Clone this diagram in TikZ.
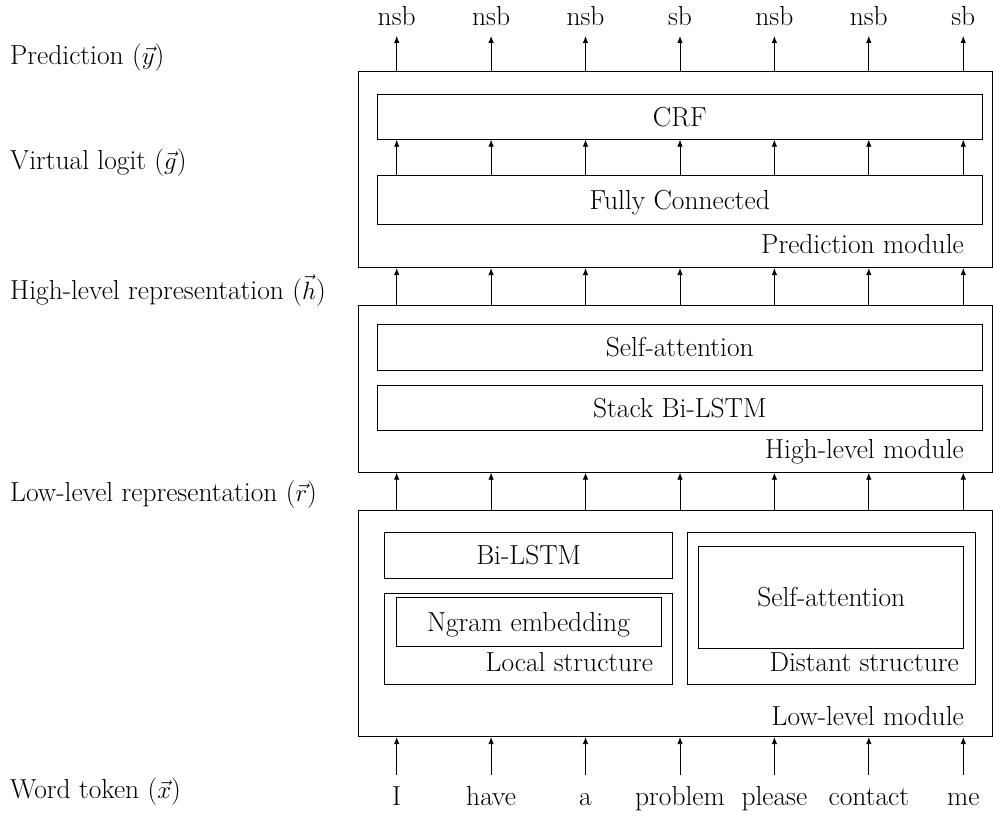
\documentclass[tikz,border=0pt]{standalone}
\usetikzlibrary{arrows.meta}
\begin{document}
\begin{tikzpicture}[x=1pt,y=-1pt,
  every node/.style={font=\fontsize{27.5}{33}\selectfont},
  box/.style={draw,line width=0.8pt,inner sep=0pt,text height=18.7pt,text depth=0pt},
  lbl/.style={inner sep=0pt},
  arr/.style={line width=0.8pt,-{Latex[length=7pt,width=5.5pt]}}]
\useasboundingbox (0,0) rectangle (993,816);
% columns
\foreach \i/\x in {1/396.7,2/491.1,3/585.5,4/680.0,5/774.4,6/868.8,7/963.3}
  \coordinate (c\i) at (\x,0);
% left labels
\node[lbl,anchor=base west] (lp) at (10,64.3) {Prediction ($\vec{y}$)};
\node[lbl,anchor=base west] (lg) at (10,169.3) {Virtual logit ($\vec{g}$)};
\node[lbl,anchor=base west] (lh) at (10,299.3) {High-level representation ($\vec{h}$)};
\node[lbl,anchor=base west] (lr) at (10,501.7) {Low-level representation ($\vec{r}$)};
\node[lbl,anchor=base west] (lx) at (10,798) {Word token ($\vec{x}$)};
% prediction module
\node[box,minimum width=634.2pt,minimum height=196.7pt] (pred) at (675.4,169.35) {};
\node[box,minimum width=605pt,minimum height=45pt] (crf) at (679.8,116.8) {CRF};
\node[box,minimum width=605pt,minimum height=48.3pt] (fc) at (679.8,199.85) {Fully Connected};
\node[lbl,anchor=base east] (predl) at (964,253) {Prediction module};
% high-level module
\node[box,minimum width=634.2pt,minimum height=166.6pt] (high) at (675.4,389) {};
\node[box,minimum width=605pt,minimum height=45.7pt] (hsa) at (679.8,347.15) {Self-attention};
\node[box,minimum width=605pt,minimum height=45pt] (stack) at (679.8,407.8) {Stack Bi-LSTM};
\node[lbl,anchor=base east] (highl) at (964,458) {High-level module};
% low-level module
\node[box,minimum width=634.2pt,minimum height=226.7pt] (low) at (675.4,623.35) {};
\node[box,minimum width=287.7pt,minimum height=45.6pt] (bil) at (528.65,555.5) {Bi-LSTM};
\node[box,minimum width=287.7pt,minimum height=90.5pt] (local) at (528.65,638.75) {};
\node[box,minimum width=265.1pt,minimum height=48.4pt] (ngram) at (528.45,622) {Ngram embedding};
\node[lbl,anchor=base east] (locall) at (653.3,671.7) {Local structure};
\node[box,minimum width=287.7pt,minimum height=151.3pt] (dist) at (831.15,608.35) {};
\node[box,minimum width=265.1pt,minimum height=102pt] (lsa) at (831.25,597) {Self-attention};
\node[lbl,anchor=base east] (distl) at (959,671.7) {Distant structure};
\node[lbl,anchor=base east] (lowl) at (964,725) {Low-level module};
% outputs
\foreach \i/\t in {1/nsb,2/nsb,3/nsb,4/sb,5/nsb,6/nsb,7/sb}{
  \node[lbl,anchor=base] (t\i) at (c\i |- 0,26) {\t};
  \draw[arr] (pred.north -| c\i) -- ([yshift=-10pt]t\i.base);
  \draw[arr] (fc.north -| c\i) -- (crf.south -| c\i);
  \draw[arr] (high.north -| c\i) -- (pred.south -| c\i);
  \draw[arr] (low.north -| c\i) -- (high.south -| c\i);
}
% inputs
\foreach \i/\t in {1/I,2/have,3/a,4/problem,5/please,6/contact,7/me}{
  \node[lbl,anchor=base] (w\i) at (c\i |- 0,805) {\t};
  \draw[arr] ([yshift=30pt]w\i.base) -- (low.south -| c\i);
}
\end{tikzpicture}
\end{document}
